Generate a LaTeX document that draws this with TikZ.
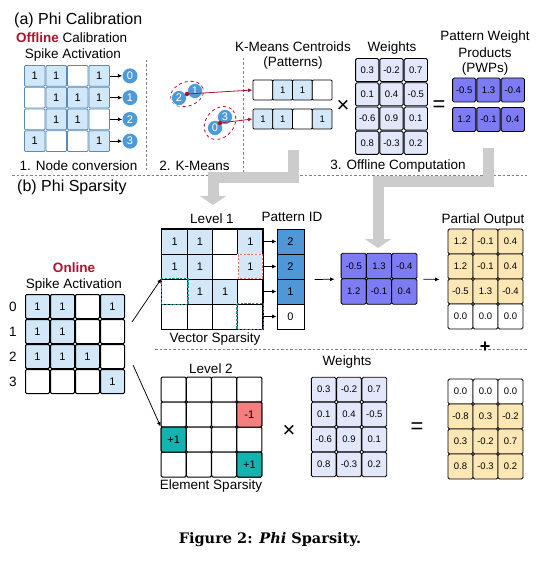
\documentclass[tikz,border=0pt]{standalone}
\usepackage{fontspec}
\setmainfont{Liberation Sans}
\newfontfamily\capfont{DejaVu Serif}
\usetikzlibrary{arrows.meta,shapes.geometric}
\definecolor{lb}{HTML}{D2E8F8}
\definecolor{bgray}{HTML}{5A8BB8}
\definecolor{nodeblue}{HTML}{4E9AD8}
\definecolor{dred}{HTML}{B0112B}
\definecolor{lav}{HTML}{E3E7FB}
\definecolor{pwpc}{HTML}{7D7CF4}
\definecolor{pidc}{HTML}{4F97D6}
\definecolor{yel}{HTML}{FCE7B5}
\definecolor{salmon}{HTML}{F47F7F}
\definecolor{tealc}{HTML}{14B3AF}
\definecolor{tealdash}{HTML}{168F8F}
\definecolor{reddash}{HTML}{E27272}
\definecolor{garrow}{HTML}{CCCCCC}
\newcommand\fsT{\fontsize{16}{18}\selectfont}
\newcommand\fsL{\fontsize{13.5}{15}\selectfont}
\newcommand\fsN{\fontsize{11}{13}\selectfont}
\newcommand\fsS{\fontsize{9.5}{11}\selectfont}
\newcommand\fsX{\fontsize{22}{24}\selectfont}
\begin{document}
\begin{tikzpicture}[x=1pt,y=-1pt,
 lbl/.style={font=\fsL, inner sep=0},
 ttl/.style={font=\fsT, inner sep=0, anchor=west},
 arr/.style={-{Latex[length=4.5pt,width=4pt]}, line width=0.75pt},
 rarr/.style={dred, -{Latex[length=4.5pt,width=4pt]}, line width=0.8pt},
 cellA/.style={draw=bgray, line width=0.9pt, rounded corners=1pt, minimum width=20.5pt, minimum height=20.75pt, inner sep=0, font=\fsN},
 cellP/.style={draw=black, line width=0.9pt, rounded corners=1pt, minimum width=19.75pt, minimum height=20pt, inner sep=0, font=\fsS},
 cellW/.style={draw=black, line width=0.9pt, rounded corners=1.5pt, inner sep=0, font=\fsS},
 cellK/.style={draw=black, line width=1pt, rounded corners=1.2pt, minimum width=25pt, minimum height=25pt, inner sep=0, font=\fsN},
 cellL/.style={draw=black, line width=1pt, minimum width=25.25pt, minimum height=25pt, inner sep=0, font=\fsN},
 knode/.style={circle, fill=nodeblue, draw=white, line width=0.5pt, minimum size=15pt, inner sep=0, text=white, font=\fsN},
 sep/.style={gray, line width=0.7pt, dash pattern=on 2.5pt off 2pt},
 garr/.style={garrow, line width=11pt, line join=miter, -{Triangle[width=26pt,length=9pt]}},
 sym/.style={font=\fsX, inner sep=0},
]
\useasboundingbox (0,0) rectangle (554,561);

% ---------------- separators
\draw[sep] (12,175) -- (527,175);
\draw[sep] (155,349) -- (528,349);
\draw[sep] (146,60) -- (146,172);
\draw[sep] (243,58) -- (243,173);

% ---------------- (a) titles
\node[ttl] (ta) at (14,20) {(a) Phi Calibration};
\node[lbl, anchor=west] (offl) at (16,38) {\textcolor{dred}{\textbf{Offline}} Calibration};
\node[lbl] (spa) at (73,55) {Spike Activation};

% top-left grid
\foreach \r/\row in {0/{1,1,0,1},1/{0,1,1,1},2/{0,1,1,0},3/{1,0,0,1}} {
  \foreach \v [count=\c from 0] in \row {
    \ifnum\v=1 \def\fc{lb}\def\tx{1}\else\def\fc{white}\def\tx{}\fi
    \node[cellA, fill=\fc] (A-\r-\c) at ({34.75+21.5*\c},{75.9+21.75*\r}) {\tx};
  }
  \node[circle, fill=nodeblue, minimum size=15pt, inner sep=0, text=white, font=\fsN] (ca-\r) at (130,{75.9+21.75*\r}) {\r};
  \draw[arr] (A-\r-3.east) -- (ca-\r.west);
}
\node[lbl] (s1) at (78.5,166) {1. Node conversion};

% K-means
\node[ellipse, draw=dred, dashed, line width=0.8pt, minimum width=34pt, minimum height=24pt, rotate=20] (e1) at (187,94) {};
\node[ellipse, draw=dred, dashed, line width=0.8pt, minimum width=36pt, minimum height=28pt, rotate=50] (e2) at (220,123) {};
\node[knode] (k2) at (179,98) {2};
\node[knode] (k1) at (195,91) {1};
\node[knode] (k3) at (225,117) {3};
\node[knode] (k0) at (215,128) {0};
\node[circle, fill=dred, minimum size=4.5pt, inner sep=0] (c1) at (187,94) {};
\node[circle, fill=dred, minimum size=4.5pt, inner sep=0] (c2) at (220,123) {};
\node[lbl] (s2) at (194.5,166) {2. K-Means};

% Patterns
\node[lbl] (kmc) at (293,47) {K-Means Centroids};
\node[lbl] (pat) at (293,63) {(Patterns)};
\foreach \r/\yy/\row in {0/90/{0,1,1,0},1/119/{1,1,0,1}} {
  \foreach \v [count=\c from 0] in \row {
    \ifnum\v=1 \def\fc{lb}\def\tx{1}\else\def\fc{white}\def\tx{}\fi
    \node[cellP, fill=\fc] (P-\r-\c) at ({262.9+19.75*\c},\yy) {\tx};
  }
}
\draw[rarr] (c1) -- (P-0-0.west);
\draw[rarr] (c2) -- (P-1-0.west);
\node[sym] (x1) at (343,106) {×};

% Weights top
\node[lbl] (wt) at (392,48) {Weights};
\foreach \r/\a/\b/\cc in {0/0.3/-0.2/0.7,1/0.1/0.4/-0.5,2/-0.6/0.9/0.1,3/0.8/-0.3/0.2} {
  \node[cellW, fill=lav, minimum width=23.3pt, minimum height=23.2pt] (W-\r-0) at (367.2,{70.1+24.25*\r}) {\a};
  \node[cellW, fill=lav, minimum width=23.3pt, minimum height=23.2pt] (W-\r-1) at (391.5,{70.1+24.25*\r}) {\b};
  \node[cellW, fill=lav, minimum width=23.3pt, minimum height=23.2pt] (W-\r-2) at (415.8,{70.1+24.25*\r}) {\cc};
}
\node[sym] (eq1) at (439,106) {=};

% PWPs top
\node[lbl] (pw1) at (485,37) {Pattern Weight};
\node[lbl] (pw2) at (485,53) {Products};
\node[lbl] (pw3) at (485,69) {(PWPs)};
\foreach \r/\yy/\a/\b/\cc in {0/90/-0.5/1.3/-0.4,1/119.5/1.2/-0.1/0.4} {
  \node[cellW, fill=pwpc, minimum width=23.3pt, minimum height=24pt] (Q-\r-0) at (464.2,\yy) {\a};
  \node[cellW, fill=pwpc, minimum width=23.3pt, minimum height=24pt] (Q-\r-1) at (488.5,\yy) {\b};
  \node[cellW, fill=pwpc, minimum width=23.3pt, minimum height=24pt] (Q-\r-2) at (512.8,\yy) {\cc};
}
\node[lbl] (s3) at (398,166) {3. Offline Computation};

% gray block arrows
\coordinate (g1a) at (293,150); \coordinate (g1b) at (213,205);
\coordinate (g2a) at (488,148); \coordinate (g2b) at (378,248);
\draw[garr] (g1a) |- (250,178) -| (g1b);
\draw[garr] (g2a) |- (430,182) -| (g2b);

% ---------------- (b)
\node[ttl] (tb) at (17,187) {(b) Phi Sparsity};
\node[lbl, text=dred, font=\fsL\bfseries] (onl) at (74,268) {Online};
\node[lbl] (spb) at (74,285) {Spike Activation};
\foreach \r/\row in {0/{1,1,0,1},1/{1,1,0,0},2/{1,1,1,0},3/{0,0,0,1}} {
  \foreach \v [count=\c from 0] in \row {
    \ifnum\v=1 \def\fc{lb}\def\tx{1}\else\def\fc{white}\def\tx{}\fi
    \node[cellK, fill=\fc, minimum width=24pt, minimum height=24pt] (O-\r-\c) at ({37.5+25*\c},{306.5+25*\r}) {\tx};
  }
  \node[lbl] (rl-\r) at (13,{306.5+25*\r}) {\r};
}

% Level 1
\node[lbl] (lv1) at (212,219) {Level 1};
\foreach \r/\row in {0/{1,1,0,1},1/{1,1,0,1},2/{0,1,1,0},3/{0,0,0,0}} {
  \foreach \v [count=\c from 0] in \row {
    \ifnum\v=1 \def\fc{lb}\def\tx{1}\else\def\fc{white}\def\tx{}\fi
    \node[cellL, fill=\fc] (L1-\r-\c) at ({174.6+25.25*\c},{241.5+25*\r}) {\tx};
  }
}
\draw[line width=1.8pt] (L1-0-0.north west) rectangle (L1-3-3.south east);
\draw[white, line width=1.6pt] ([xshift=1pt,yshift=-1pt]L1-1-3.north west) rectangle ([xshift=-1pt,yshift=1pt]L1-1-3.south east);
\draw[reddash, line width=1.2pt, dash pattern=on 2.2pt off 1.5pt] ([xshift=1pt,yshift=-1pt]L1-1-3.north west) rectangle ([xshift=-1pt,yshift=1pt]L1-1-3.south east);
\draw[tealdash, line width=1.7pt, dash pattern=on 2.4pt off 1.4pt] (L1-2-0.north west) rectangle (L1-2-0.south east);
\draw[tealdash, line width=1.7pt, dash pattern=on 2.4pt off 1.4pt] (L1-3-3.north west) rectangle (L1-3-3.south east);
\node[lbl] (vs) at (215,339) {Vector Sparsity};

% Pattern ID
\node[lbl] (pidl) at (292,217) {Pattern ID};
\foreach \r/\v/\fc in {0/2/pidc,1/2/pidc,2/1/pidc,3/0/white} {
  \node[draw=black, line width=1pt, fill=\fc, minimum width=27pt, minimum height=25pt, inner sep=0, font=\fsN] (pid-\r) at (290.5,{241.5+25*\r}) {\v};
  \draw[arr] (L1-\r-3.east) -- (pid-\r.west);
}

% PWPs (b)
\foreach \r/\yy/\a/\b/\cc in {0/266/-0.5/1.3/-0.4,1/291.5/1.2/-0.1/0.4} {
  \node[cellW, fill=pwpc, minimum width=25.3pt, minimum height=25.5pt] (R-\r-0) at (353.7,\yy) {\a};
  \node[cellW, fill=pwpc, minimum width=25.3pt, minimum height=25.5pt] (R-\r-1) at (379,\yy) {\b};
  \node[cellW, fill=pwpc, minimum width=25.3pt, minimum height=25.5pt] (R-\r-2) at (404.3,\yy) {\cc};
}
\draw[arr] ([xshift=10pt]pid-1.south east) -- ([xshift=-6pt]R-0-0.south west);

% Partial output
\node[lbl] (pol) at (483,220) {Partial Output};
\foreach \r/\fc/\a/\b/\cc in {0/yel/1.2/-0.1/0.4,1/yel/1.2/-0.1/0.4,2/yel/-0.5/1.3/-0.4,3/white/0.0/0.0/0.0} {
  \node[cellW, fill=\fc, minimum width=25pt, minimum height=25pt] (PO-\r-0) at (460.5,{241.5+25*\r}) {\a};
  \node[cellW, fill=\fc, minimum width=25pt, minimum height=25pt] (PO-\r-1) at (485.5,{241.5+25*\r}) {\b};
  \node[cellW, fill=\fc, minimum width=25pt, minimum height=25pt] (PO-\r-2) at (510.5,{241.5+25*\r}) {\cc};
}
\draw[arr] ([xshift=6pt]R-0-2.south east) -- ([xshift=-8pt]PO-1-0.south west);
\node[font=\bfseries\fontsize{18}{18}\selectfont, inner sep=0] (plus) at (485,347.5) {+};

% Level 2
\node[lbl] (lv2) at (211,369) {Level 2};
\foreach \r in {0,...,3} {
  \foreach \c in {0,...,3} {
    \node[cellK, fill=white] (L2-\r-\c) at ({173.6+25.25*\c},{389.5+25*\r}) {};
  }
}
\node[cellK, fill=salmon] (m1) at (L2-1-3) {-1};
\node[cellK, fill=tealc] (p1) at (L2-2-0) {+1};
\node[cellK, fill=tealc] (p2) at (L2-3-3) {+1};
\node[lbl] (es) at (211,486) {Element Sparsity};
\node[sym] (x2) at (289,431) {×};

% Online arrows
\coordinate (onU) at (132,322);
\coordinate (onD) at (133,365);
\draw[arr] (onU) -- (L1-2-0.north west);
\draw[arr] (onD) -- (L2-2-0.north west);

% Weights bottom
\node[lbl] (wb) at (347,362) {Weights};
\foreach \r/\a/\b/\cc in {0/0.3/-0.2/0.7,1/0.1/0.4/-0.5,2/-0.6/0.9/0.1,3/0.8/-0.3/0.2} {
  \node[cellW, fill=lav, minimum width=24.8pt, minimum height=24.5pt] (V-\r-0) at (323.7,{389.5+25*\r}) {\a};
  \node[cellW, fill=lav, minimum width=24.8pt, minimum height=24.5pt] (V-\r-1) at (349,{389.5+25*\r}) {\b};
  \node[cellW, fill=lav, minimum width=24.8pt, minimum height=24.5pt] (V-\r-2) at (374.3,{389.5+25*\r}) {\cc};
}
\node[sym] (eq2) at (417,428) {=};

% Result
\foreach \r/\fc/\a/\b/\cc in {0/white/0.0/0.0/0.0,1/yel/-0.8/0.3/-0.2,2/yel/0.3/-0.2/0.7,3/yel/0.8/-0.3/0.2} {
  \node[cellW, fill=\fc, minimum width=25pt, minimum height=25pt] (RS-\r-0) at (460.5,{391.5+25*\r}) {\a};
  \node[cellW, fill=\fc, minimum width=25pt, minimum height=25pt] (RS-\r-1) at (485.5,{391.5+25*\r}) {\b};
  \node[cellW, fill=\fc, minimum width=25pt, minimum height=25pt] (RS-\r-2) at (510.5,{391.5+25*\r}) {\cc};
}

% caption
\node[inner sep=0, font=\capfont\fontsize{14.5}{16}\selectfont\bfseries] (cap) at (270,540) {Figure 2: \textit{Phi} Sparsity.};
\end{tikzpicture}
\end{document}
